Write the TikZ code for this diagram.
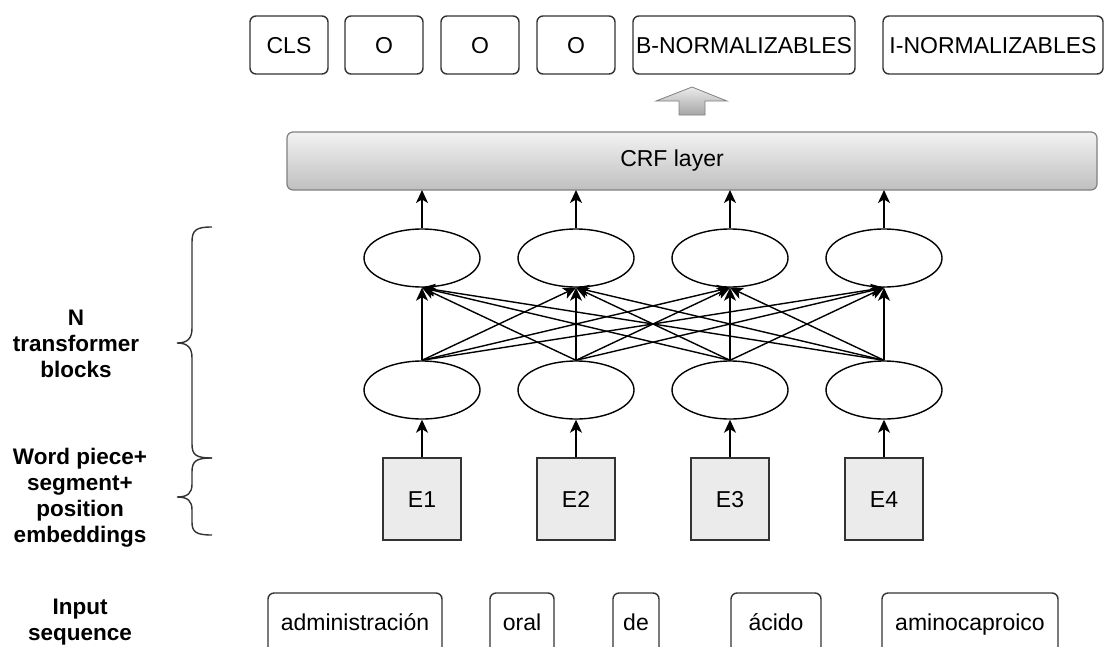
\documentclass[tikz,border=0pt]{standalone}
\usepackage{fontspec}
\setmainfont{Liberation Sans}
\usetikzlibrary{arrows.meta,shapes.geometric}
\definecolor{edgec}{HTML}{333333}
\tikzset{
  txt/.style={font=\fontsize{23}{27}\selectfont},
  lbl/.style={rounded corners=6pt, draw=edgec, line width=1.4pt, minimum height=58pt, inner sep=0pt, txt, text height=16.5pt, text depth=0pt},
  emb/.style={draw=edgec, line width=1.4pt, fill=black!8, minimum width=78pt, minimum height=82pt, inner sep=0pt, txt, text height=16.5pt, text depth=0pt},
  inp/.style={rounded corners=6pt, draw=edgec, line width=1.4pt, minimum height=76pt, inner sep=0pt},
  neuron/.style={ellipse, draw=black, line width=1.4pt, minimum width=116pt, minimum height=58pt, inner sep=0pt},
  arr/.style={-{Stealth[length=13pt,width=12pt,inset=3.5pt]}, line width=1.4pt},
  side/.style={font=\bfseries\fontsize{22.5}{26}\selectfont, align=center},
  brace/.style={draw=edgec, line width=1.4pt}
}
\begin{document}
\begin{tikzpicture}[x=1pt,y=-1pt]
\clip (0,0) rectangle (1105,646);
\fill[white] (0,0) rectangle (1105,646);
% output labels
\node[lbl, minimum width=78pt] (cls) at (289,45) {CLS};
\node[lbl, minimum width=78pt] (o1) at (384,45) {O};
\node[lbl, minimum width=78pt] (o2) at (480,45) {O};
\node[lbl, minimum width=78pt] (o3) at (576,45) {O};
\node[lbl, minimum width=222pt] (bn) at (744,45) {B-NORMALIZABLES};
\node[lbl, minimum width=220pt] (in) at (993,45) {I-NORMALIZABLES};
% hollow arrow
\shade[top color=black!8, bottom color=black!35, draw=black!50, line width=0.8pt]
  (679,115) -- (679,101) -- (656,101) -- (692,87) -- (727,101) -- (705,101) -- (705,115) -- cycle;
% CRF layer
\node[rounded corners=6pt, draw=black!50, line width=1.2pt, top color=black!5, bottom color=black!25,
  minimum width=810pt, minimum height=58pt, inner sep=0pt] (crf) at (692,161) {};
\node[txt] (crft) at (672,161) {CRF layer};
% neurons
\foreach \i/\x in {1/422,2/576,3/730,4/884}{
  \node[neuron] (t\i) at (\x,258) {};
  \node[neuron] (b\i) at (\x,390) {};
  \node[emb] (e\i) at (\x,499) {E\i};
  \coordinate (c\i) at (\x,190);
  \draw[arr] (t\i.north) -- (c\i);
  \draw[arr] (e\i.north) -- (b\i.south);
}
\foreach \i in {1,...,4}{
  \foreach \j in {1,...,4}{
    \draw[arr] (b\i.north) -- (t\j.south);
  }
}
% inputs
\node[inp, minimum width=174pt] (w1) at (355,631) {};
\node[txt, anchor=base] (w1t) at (355,630) {administración};
\node[inp, minimum width=64pt] (w2) at (522,631) {};
\node[txt, anchor=base] (w2t) at (522,630) {oral};
\node[inp, minimum width=46pt] (w3) at (636,631) {};
\node[txt, anchor=base] (w3t) at (636,630) {de};
\node[inp, minimum width=90pt] (w4) at (776,631) {};
\node[txt, anchor=base] (w4t) at (776,630) {ácido};
\node[inp, minimum width=176pt] (w5) at (970,631) {};
\node[txt, anchor=base] (w5t) at (970,630) {aminocaproico};
% braces
\draw[brace] (212,227) .. controls (196,227) and (192,230) .. (192,242) -- (192,328)
  .. controls (192,338) and (188,343) .. (177,343) .. controls (188,343) and (192,348) .. (192,358)
  -- (192,444) .. controls (192,455) and (196,458) .. (212,458);
\draw[brace] (212,458) .. controls (196,458) and (192,461) .. (192,472) -- (192,484)
  .. controls (192,493) and (188,497) .. (177,497) .. controls (188,497) and (192,501) .. (192,510)
  -- (192,522) .. controls (192,532) and (196,535) .. (212,535);
% side labels
\node[side] (nt) at (76,344) {N\\transformer\\blocks};
\node[side] (wp) at (80,498) {Word piece+\\segment+\\position\\embeddings};
\node[side] (is) at (80,622) {Input\\sequence};
\end{tikzpicture}
\end{document}
